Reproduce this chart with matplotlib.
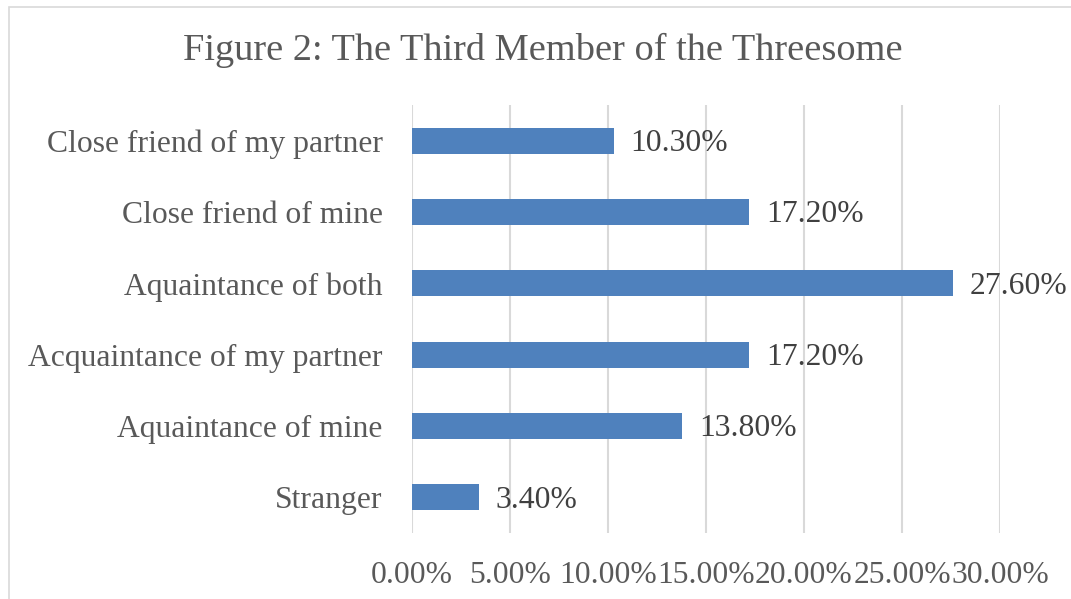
import matplotlib
matplotlib.use("Agg")
import matplotlib.pyplot as plt
from matplotlib.patches import Rectangle

categories = ["Stranger", "Aquaintance of mine", "Acquaintance of my partner",
              "Aquaintance of both", "Close friend of mine", "Close friend of my partner"]
values = [3.4, 13.8, 17.2, 27.6, 17.2, 10.3]
xticks = [0, 5, 10, 15, 20, 25, 30]
title = "Figure 2: The Third Member of the Threesome"

plt.rcParams['font.family'] = ['Liberation Serif', 'DejaVu Serif']

W, H = 1071, 599
FS = 22.8
fig = plt.figure(figsize=(W / 100, H / 100), dpi=100)
ax = fig.add_axes([412 / W, (H - 533) / H, (1000 - 412) / W, (533 - 105) / H])

ypos = list(range(len(categories)))
ax.barh(ypos, values, height=0.364, color="#4F81BD", zorder=3)
ax.set_xlim(0, 30)
ax.set_ylim(-0.5, len(categories) - 0.5)
ax.set_xticks(xticks)
ax.set_xticklabels([f"{v:.2f}%" for v in xticks])
ax.set_yticks(ypos)
ax.set_yticklabels(categories)
ax.tick_params(axis='both', length=0, labelsize=FS, colors="#595959")
ax.tick_params(axis='x', pad=20)
ax.tick_params(axis='y', pad=21)
ax.grid(axis='x', color="#D9D9D9", linewidth=1.5, zorder=0)
for s in ax.spines.values():
    s.set_visible(False)

for y, v in zip(ypos, values):
    ax.annotate(f"{v:.2f}%", (v, y), xytext=(12, -0.33 * FS), textcoords="offset points",
                va="baseline", ha="left", fontsize=FS, color="#404040", zorder=4)

fig.text(0.5 * (183 + 903) / W, (H - 50) / H, title, ha="center", va="center",
         fontsize=27.6, color="#595959")

fig.patches.append(Rectangle((9 / W, -0.1), 1.2, (H - 7) / H + 0.1, transform=fig.transFigure,
                             fill=False, edgecolor="#D9D9D9", linewidth=1.2, figure=fig))

fig.savefig("out.png", dpi=100)
